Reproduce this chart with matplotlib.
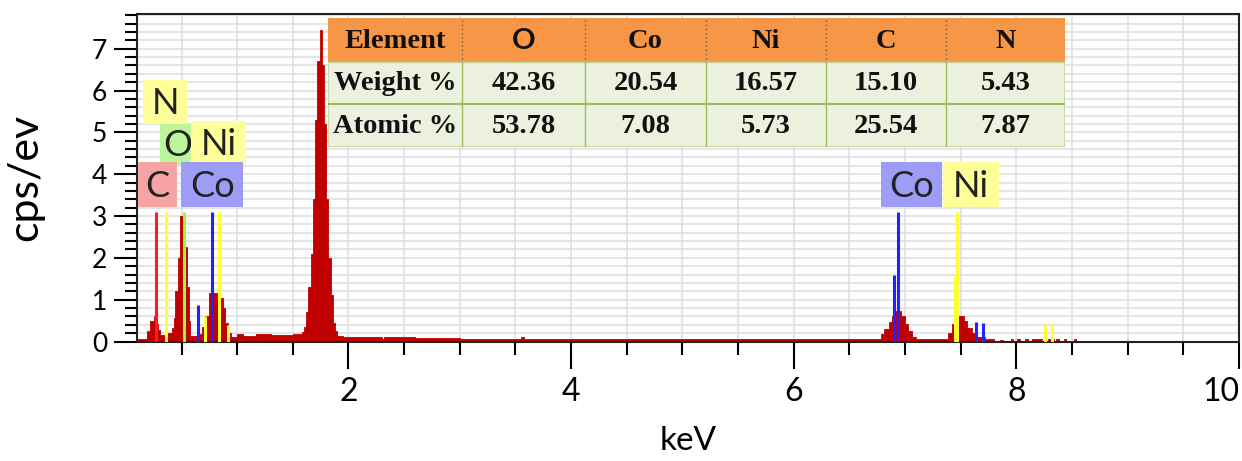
import matplotlib.pyplot as plt
from matplotlib.patches import Rectangle
from matplotlib.ticker import MultipleLocator, FixedLocator

# EDS spectrum, step histogram: bin edges (keV) and counts per bin (cps/eV)
edges_keV = [0.10, 0.19, 0.22, 0.25, 0.27, 0.29, 0.31, 0.355, 0.415, 0.43, 0.445,
             0.468, 0.489, 0.525, 0.549, 0.563, 0.578, 0.64, 0.683, 0.713, 0.743,
             0.818, 0.869, 0.893, 0.917, 0.94, 1.00, 1.05, 1.17, 1.30, 1.50,
             1.58, 1.60, 1.62, 1.64, 1.66, 1.68, 1.70, 1.72, 1.74, 1.76, 1.78,
             1.80, 1.82, 1.84, 1.86, 1.88, 1.90, 1.95, 2.30, 2.32, 2.60, 3.00,
             3.55, 3.58, 6.50, 6.60, 6.78, 6.81, 6.856, 6.88, 6.90, 6.96, 7.00,
             7.03, 7.06, 7.10, 7.39, 7.42, 7.45, 7.48, 7.53, 7.56, 7.60, 7.63,
             7.72, 7.80, 7.85, 7.88, 7.95, 7.97, 8.01, 8.03, 8.08, 8.10, 8.14,
             8.23, 8.28, 8.34, 8.36, 8.38, 8.43, 8.45, 8.52, 8.54, 10.0]
cps = [0.07, 0.26, 0.50, 0.62, 0.43, 0.28, 0.15, 0.20, 0.32, 0.55,
       1.20, 2.00, 3.00, 2.25, 1.30, 0.50, 0.12, 0.18, 0.35, 0.60,
       1.15, 1.05, 0.80, 0.45, 0.20, 0.10, 0.17, 0.13, 0.17, 0.15,
       0.17, 0.22, 0.35, 0.70, 1.30, 2.10, 3.40, 5.30, 6.70, 7.45, 6.60,
       5.20, 3.40, 2.00, 1.10, 0.45, 0.25, 0.12, 0.10, 0.06, 0.10, 0.09,
       0.07, 0.11, 0.07, 0.05, 0.06, 0.18, 0.30, 0.46, 0.60, 0.74, 0.62,
       0.43, 0.25, 0.10, 0.05, 0.20, 0.43, 0.68, 0.62, 0.48, 0.32, 0.20,
       0.10, 0.05, 0.00, 0.04, 0.00, 0.05, 0.00, 0.05, 0.00, 0.05, 0.00,
       0.06, 0.02, 0.07, 0.00, 0.05, 0.00, 0.05, 0.00, 0.05, 0.00]

# element line markers
marker_keV = [0.27, 0.36, 0.525, 0.65, 0.71, 0.775, 0.84, 0.92,
              6.90, 6.935, 7.45, 7.465, 7.64, 7.70, 8.26, 8.32]
marker_height = [3.1, 3.1, 3.1, 0.88, 0.6, 3.1, 3.1, 0.4,
                 1.6, 3.1, 1.6, 3.1, 0.47, 0.45, 0.43, 0.43]
marker_color = ['#ff1a1a', '#ffff33', '#99ff33', '#2222ff', '#ffff33', '#2222ff', '#ffff33', '#ffff33',
                '#2222ff', '#2222ff', '#ffff33', '#ffff33', '#2222ff', '#2222ff', '#ffff33', '#ffff33']

# quantification table
elements = ['O', 'Co', 'Ni', 'C', 'N']
weight_pct = ['42.36', '20.54', '16.57', '15.10', '5.43']
atomic_pct = ['53.78', '7.08', '5.73', '25.54', '7.87']

W, H = 1242, 461
fig = plt.figure(figsize=(W / 100, H / 100), dpi=100)
ui = ['Lato', 'DejaVu Sans']

x0, x1, y0, y1 = 137, 1239, 341.5, 14
ax = fig.add_axes([x0 / W, 1 - y0 / H, (x1 - x0) / W, (y0 - y1) / H])
ax.set_xlim(0.1, 10)
ax.set_ylim(0, 7.83)

ax.xaxis.set_major_locator(FixedLocator([2, 4, 6, 8, 10]))
ax.xaxis.set_minor_locator(MultipleLocator(0.5))
ax.yaxis.set_major_locator(MultipleLocator(1))
ax.yaxis.set_minor_locator(MultipleLocator(0.2))
ax.set_axisbelow(True)
ax.grid(which='both', color='#dedede', lw=1.1)

ax.tick_params(axis='x', which='major', length=19.5, width=1.5, direction='out',
               labelsize=23, pad=6)
ax.tick_params(axis='x', which='minor', length=9.5, width=1.5, direction='out')
ax.tick_params(axis='y', which='major', length=16.5, width=1.5, direction='out',
               labelsize=19, pad=5)
ax.tick_params(axis='y', which='minor', length=9, width=1.5, direction='out')
fig.canvas.draw()
for lab in ax.get_xticklabels() + ax.get_yticklabels():
    lab.set_family(ui)
# last x label sits against the right edge
ax.get_xticklabels()[-1].set_horizontalalignment('right')
for sp in ax.spines.values():
    sp.set_color('#222222')
    sp.set_linewidth(1.5)

ax.set_xlabel('keV', family=ui, fontsize=24, labelpad=14)
ax.set_ylabel('cps/ev', family=ui, fontsize=31, labelpad=34)

# spectrum and line markers
ax.fill_between(edges_keV, cps + [cps[-1]], 0, step='post', facecolor='#c00000',
                edgecolor='#c00000', lw=0.6, antialiased=False, zorder=2)
ax.vlines(marker_keV, 0, marker_height, colors=marker_color, lw=2.2, zorder=3)

# element tags: (text, x_left, x_right, y_bottom, y_top, color, text_x)
tags = [
    ('N', 0.156, 0.551, 5.20, 6.26, '#ffff99', None),
    ('O', 0.307, 0.60, 4.22, 5.20, '#bdf59d', 0.47),
    ('Ni', 0.583, 1.08, 4.22, 5.26, '#ffff99', None),
    ('C', 0.111, 0.461, 3.21, 4.28, '#f5a3a3', None),
    ('Co', 0.499, 1.053, 3.21, 4.28, '#9d9df7', None),
    ('Co', 6.78, 7.33, 3.21, 4.28, '#9d9df7', None),
    ('Ni', 7.34, 7.84, 3.21, 4.28, '#ffff99', None),
]
for z, (t, xa, xb, ya, yb, c, tx) in enumerate(tags):
    ax.add_patch(Rectangle((xa, ya), xb - xa, yb - ya, facecolor=c, edgecolor='none',
                           zorder=4 + z))
    if tx is None:
        tx = (xa + xb) / 2
    ax.text(tx, (ya + yb) / 2 - 0.03, t, family=ui, fontsize=26, ha='center', va='center',
            color='#222222', zorder=4 + z)

# table drawn in its own axes, pixel units
tl, tr, tt, tb = 328, 1065, 18, 147
tax = fig.add_axes([tl / W, 1 - tb / H, (tr - tl) / W, (tb - tt) / H])
tax.set_xlim(tl, tr)
tax.set_ylim(tb, tt)
tax.axis('off')
col_x = [tl, 462, 585, 706, 826, 946, tr]
row_y = [tt, 62, 104, tb]
tax.add_patch(Rectangle((tl, row_y[1]), tr - tl, tb - row_y[1], facecolor='#ebf1de',
                        edgecolor='#c3d69b', lw=1.2))
tax.add_patch(Rectangle((tl, tt), tr - tl, row_y[1] - tt, facecolor='#f79646',
                        edgecolor='none'))
tax.hlines([104], tl, tr, color='#9bbb59', lw=1.5)
tax.hlines([62], tl, tr, color='#c3d69b', lw=1.0)
tax.vlines(col_x[1:-1], row_y[1], tb, color='#9bbb59', lw=1.0)
tax.vlines(col_x[1:-1], tt + 2, row_y[1], color='#7a5a3a', lw=1.0, linestyles=(0, (1, 2)))

serif = dict(family='Liberation Serif', fontweight='bold', fontsize=20.5,
             ha='center', va='center', color='#111111')
rows = [['Element'] + elements, ['Weight %'] + weight_pct, ['Atomic %'] + atomic_pct]
for r, cells in enumerate(rows):
    yc = (row_y[r] + row_y[r + 1]) / 2 + 1
    for c, s in enumerate(cells):
        xc = (col_x[c] + col_x[c + 1]) / 2
        if s == 'O':
            tax.text(xc, yc, s, family=ui, fontsize=21, fontweight='bold', ha='center',
                     va='center', color='#111111')
        else:
            tax.text(xc, yc, s, **serif)

fig.savefig('out.png', dpi=100)
